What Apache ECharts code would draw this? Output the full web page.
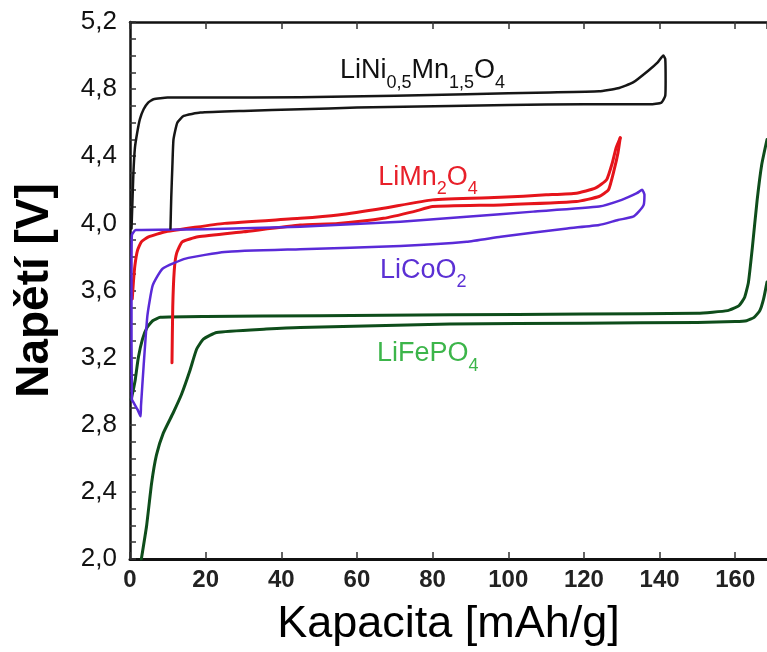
<!DOCTYPE html>
<html><head><meta charset="utf-8">
<script src="https://cdn.jsdelivr.net/npm/echarts@6/dist/echarts.min.js"></script>
<style>html,body{margin:0;padding:0;background:#fff}#c{width:767px;height:652px}</style>
</head><body><div id="c"></div>
<script>
// ---- data: [capacity mAh/g, voltage V] ----
const lnmoCharge = [[0.4,3.97],[0.6,4.1],[0.9,4.3],[1.3,4.45],[1.9,4.54],[2.6,4.62],[3.6,4.68],[4.8,4.72],[6.2,4.74],[9.9,4.75],[20,4.75],[45,4.752],[70,4.76],[89,4.77],[111,4.78],[124,4.787],[129,4.805],[133,4.84],[137,4.91],[139.5,4.96],[141,5.0]];
const lnmoDischarge = [[141.5,4.98],[141.6,4.85],[141.5,4.76],[140.5,4.72],[137.5,4.71],[120,4.71],[100,4.705],[84.6,4.70],[60,4.69],[45,4.68],[30,4.67],[18.6,4.66],[14.2,4.64],[12.5,4.6],[11.5,4.5],[11.2,4.34],[10.9,4.15],[10.7,3.97]];
const lmoCycle1 = [[0.6,3.55],[0.9,3.65],[1.3,3.75],[2,3.84],[3,3.89],[4.9,3.92],[9.4,3.95],[25,4.0],[45,4.03],[55,4.05],[67,4.09],[80,4.14],[98,4.155],[110,4.17],[118,4.18],[123,4.21],[126,4.26],[127.5,4.36],[128.5,4.45],[129.6,4.51]];
const lmoCycle2 = [[11.1,3.17],[11.3,3.5],[11.7,3.72],[12.3,3.82],[13.8,3.89],[18,3.92],[30,3.95],[45,3.99],[55,4.0],[67,4.03],[75,4.07],[80,4.1],[98,4.11],[118,4.13],[124,4.16],[126.5,4.2],[128,4.32],[129,4.42],[129.6,4.51]];
const lcoCharge = [[0.5,2.95],[0.4,3.3],[0.4,3.7],[0.5,3.93],[1.5,3.96],[20,3.965],[45,3.98],[71.5,4.01],[89,4.04],[106.6,4.07],[124,4.1],[130,4.14],[134,4.18],[135.4,4.2]];
const lcoDischarge = [[136,4.17],[135.8,4.11],[134.5,4.07],[133,4.04],[129,4.02],[124,3.99],[115.6,3.97],[98,3.92],[89,3.89],[71.5,3.865],[45,3.846],[25,3.83],[14.7,3.79],[8.6,3.73],[6,3.63],[4.6,3.45],[3.6,3.15],[2.9,2.91],[2.8,2.85],[2.0,2.89],[1.0,2.93],[0.5,2.95]];
const lfpCharge = [[0.3,2.95],[0.8,3.0],[1.4,3.07],[2.2,3.2],[3.3,3.31],[4.5,3.38],[6,3.42],[8,3.44],[20,3.445],[50,3.45],[84.6,3.455],[120,3.46],[150,3.465],[158,3.48],[161,3.51],[162.5,3.56],[163.5,3.65],[164.5,3.85],[165.8,4.14],[167,4.35],[168.4,4.5]];
const lfpDischarge = [[3.0,2.0],[4.4,2.2],[5.7,2.45],[7.0,2.62],[8.8,2.75],[11.4,2.87],[13.6,2.98],[15.8,3.12],[17.6,3.25],[19.4,3.31],[22.9,3.35],[36,3.37],[45,3.38],[84.6,3.40],[120,3.405],[150,3.41],[160,3.415],[163,3.42],[165,3.44],[166.5,3.48],[167.5,3.55],[168.4,3.65]];

const xRange = [0, 168.4];
const yRange = [2.0, 5.2];
const xStep = 20;
const yStep = 0.4;

const FONT = '"Liberation Sans", Arial, sans-serif';

const chart = echarts.init(document.getElementById('c'), null, {renderer: 'canvas'});

function line(name, data, color, width) {
  return {
    name, type: 'line', data, showSymbol: false, symbol: 'none', smooth: 0.15,
    lineStyle: {color, width, cap: 'round', join: 'round'}, z: 3, animation: false,
    xAxisIndex: 0, yAxisIndex: 0
  };
}

const option = {
  animation: false,
  backgroundColor: '#fff',
  textStyle: {fontFamily: FONT},
  grid: {left: 130, right: 0, top: 22, bottom: 91, containLabel: false},
  xAxis: [{
    type: 'value', min: xRange[0], max: xRange[1], interval: xStep,
    position: 'bottom',
    name: 'Kapacita [mAh/g]', nameLocation: 'middle', nameGap: 43,
    nameTextStyle: {fontSize: 45, color: '#000', fontFamily: FONT},
    axisLine: {show: true, onZero: false, lineStyle: {color: '#111', width: 3}},
    axisTick: {show: true, inside: true, length: 7, lineStyle: {color: '#333', width: 1.5}},
    axisLabel: {fontSize: 24, fontWeight: 'bold', color: '#222', margin: 9, showMaxLabel: false, fontFamily: FONT},
    splitLine: {show: false}
  }, {
    type: 'value', min: xRange[0], max: xRange[1], interval: xStep,
    position: 'top',
    axisLine: {show: true, onZero: false, lineStyle: {color: '#111', width: 2.5}},
    axisTick: {show: true, inside: true, length: 7, lineStyle: {color: '#333', width: 1.5}},
    axisLabel: {show: false},
    splitLine: {show: false}
  }],
  yAxis: [{
    type: 'value', min: yRange[0], max: yRange[1], interval: yStep,
    name: 'Napětí [V]', nameLocation: 'middle', nameGap: 72,
    nameTextStyle: {fontSize: 46, fontWeight: 'bold', color: '#000', fontFamily: FONT},
    axisLine: {show: true, onZero: false, lineStyle: {color: '#111', width: 2.5}},
    axisTick: {show: true, inside: true, length: 6, lineStyle: {color: '#333', width: 1.5}},
    minorTick: {show: true, splitNumber: 4, length: 6, lineStyle: {color: '#333', width: 1.5}},
    axisLabel: {fontSize: 26, color: '#111', margin: 13, fontFamily: FONT,
      formatter: v => v.toFixed(1).replace('.', ',')},
    splitLine: {show: false}
  }],
  series: [
    line('LiFePO4 a', lfpDischarge, '#0e4d1b', 3),
    line('LiFePO4 b', lfpCharge, '#0e4d1b', 3),
    line('LiMn2O4 a', lmoCycle1, '#e5141b', 3),
    line('LiMn2O4 b', lmoCycle2, '#e5141b', 3),
    line('LiCoO2', lcoCharge.concat(lcoDischarge), '#5a2ad8', 2.5),
    line('LiNi0.5Mn1.5O4', lnmoCharge.concat(lnmoDischarge), '#161616', 2.5)
  ]
};
chart.setOption(option);

// ---- annotations (data coordinates of the text baseline start) ----
const labels = [
  {pos: [55.5, 4.856], color: '#111', text: '{m|LiNi}{s|0,5}{m|Mn}{s|1,5}{m|O}{s|4}'},
  {pos: [65.6, 4.22], color: '#e8202a', text: '{m|LiMn}{s|2}{m|O}{s|4}'},
  {pos: [66.1, 3.668], color: '#5b30d4', text: '{m|LiCoO}{s|2}'},
  {pos: [65.3, 3.169], color: '#3cb54a', text: '{m|LiFePO}{s|4}'}
];
const BASE = 30; // baseline offset from top of rich text box
chart.setOption({
  graphic: labels.map(l => {
    const p = chart.convertToPixel({xAxisIndex: 0, yAxisIndex: 0}, l.pos);
    return {
      type: 'text', x: p[0], y: p[1] - BASE, z: 10, silent: true,
      style: {
        text: l.text, fill: l.color, align: 'left', verticalAlign: 'top',
        rich: {
          m: {fontSize: 27, lineHeight: 42, fill: l.color, fontFamily: FONT},
          s: {fontSize: 18, lineHeight: 18, verticalAlign: 'bottom', fill: l.color, fontFamily: FONT}
        }
      }
    };
  })
});
</script></body></html>
